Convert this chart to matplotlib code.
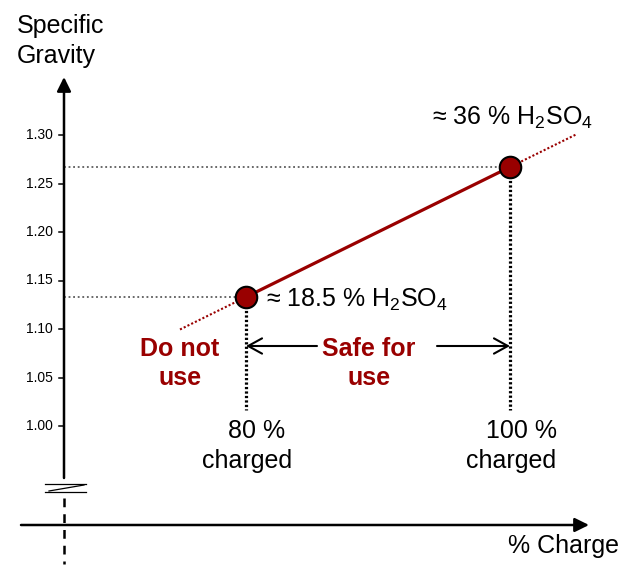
import matplotlib
matplotlib.use("Agg")
import matplotlib.pyplot as plt

# ---------------- data ----------------
charge = [80, 100]                      # % charge
gravity = [1.133, 1.267]                # specific gravity
acid_pct = ["18.5", "36"]               # % H2SO4
charge_labels = ["80 %", "100 %"]
yticks = [1.00, 1.05, 1.10, 1.15, 1.20, 1.25, 1.30]
ytick_labels = ["1.00", "1.05", "1.10", "1.15", "1.20", "1.25", "1.30"]
extension = 5                           # dotted extension of the line (% charge)

# ---------------- style ----------------
plt.rcParams["font.family"] = ["Liberation Sans", "DejaVu Sans"]
plt.rcParams["mathtext.fontset"] = "custom"
plt.rcParams["mathtext.rm"] = "Liberation Sans"
plt.rcParams["mathtext.it"] = "Liberation Sans:italic"
plt.rcParams["mathtext.bf"] = "Liberation Sans:bold"
plt.rcParams["mathtext.default"] = "regular"

RED = "#990000"
FS = 18

W, H = 635, 574
fig = plt.figure(figsize=(W / 100, H / 100), dpi=100)
ax = fig.add_axes([0, 0, 1, 1])
ax.axis("off")

# pixel <-> data scale of the drawing
PX_PER_PCT = 13.2
PX_PER_SG = 970.0
X_REF_PX, Y_REF_PX = 246, 135


def dx(px):
    return charge[0] + (px - X_REF_PX) / PX_PER_PCT


def dy(py):
    return yticks[-1] - (py - Y_REF_PX) / PX_PER_SG


ax.set_xlim(dx(0), dx(W))
ax.set_ylim(dy(H), dy(0))

AX_X = dx(64)
AX_Y = dy(525)

# y axis with arrow
ax.annotate("", xy=(AX_X, dy(77)), xytext=(AX_X, dy(478)),
            arrowprops=dict(arrowstyle="-|>,head_length=0.85,head_width=0.42",
                            lw=1.8, color="black", shrinkA=0, shrinkB=0,
                            mutation_scale=10))
# x axis with arrow
ax.annotate("", xy=(dx(589), AX_Y), xytext=(dx(21), AX_Y),
            arrowprops=dict(arrowstyle="-|>,head_length=0.85,head_width=0.42",
                            lw=1.8, color="black", shrinkA=0, shrinkB=0,
                            mutation_scale=10))

# axis break symbol
ax.plot([dx(45), dx(86)], [dy(484), dy(484)], color="black", lw=0.9)
ax.plot([dx(45), dx(86)], [dy(492), dy(492)], color="black", lw=0.9)
ax.plot([dx(49), dx(84)], [dy(491), dy(485)], color="black", lw=0.9)
ax.plot([AX_X, AX_X], [dy(498), dy(564)], color="black", lw=1.8,
        linestyle=(0, (3.5, 2.8)))

# y ticks
for v, lab in zip(yticks, ytick_labels):
    ax.plot([dx(59), AX_X], [v, v], color="black", lw=1.1)
    ax.text(dx(53), v, lab, ha="right", va="center", fontsize=10)

# guide lines
for c, g in zip(charge, gravity):
    ax.plot([AX_X, c], [g, g], color="#404040", lw=1.1,
            linestyle=(0, (1.2, 1.8)))
    ax.plot([c, c], [g, dy(410)], color="black", lw=2.3,
            linestyle=(0, (0.7, 0.7)))

# red line and its dotted extensions
slope = (gravity[1] - gravity[0]) / (charge[1] - charge[0])
ax.plot(charge, gravity, color=RED, lw=2.3, solid_capstyle="butt")
ax.plot([charge[0] - extension, charge[0]],
        [gravity[0] - slope * extension, gravity[0]],
        color=RED, lw=1.5, linestyle=(0, (1, 1)))
ax.plot([charge[1], charge[1] + extension],
        [gravity[1], gravity[1] + slope * extension],
        color=RED, lw=1.5, linestyle=(0, (1, 1)))
ax.scatter(charge, gravity, s=15.5 ** 2, color=RED, edgecolor="black",
           linewidth=1.5, zorder=5)

# acid concentration labels
acid_offsets = [(20, -10), (-78, 42)]
for c, g, a, off in zip(charge, gravity, acid_pct, acid_offsets):
    ax.annotate("≈ " + a + " % H$_2$SO$_4$", xy=(c, g), xytext=off,
                textcoords="offset pixels", ha="left", va="baseline",
                fontsize=FS)

# charge labels
for c, lab in zip(charge, charge_labels):
    ax.annotate(lab, xy=(c, dy(438)), xytext=(11, 0), textcoords="offset pixels",
                ha="center", va="baseline", fontsize=FS)
    ax.text(c + 1.5 / PX_PER_PCT, dy(468), "charged", ha="center",
            va="baseline", fontsize=FS)

# zone labels
ax.text(dx(180), dy(356), "Do not", ha="center", va="baseline", fontsize=FS,
        color=RED, fontweight="bold")
ax.text(dx(180), dy(385), "use", ha="center", va="baseline", fontsize=FS,
        color=RED, fontweight="bold")
ax.text(dx(369), dy(356), "Safe for", ha="center", va="baseline", fontsize=FS,
        color=RED, fontweight="bold")
ax.text(dx(369), dy(385), "use", ha="center", va="baseline", fontsize=FS,
        color=RED, fontweight="bold")

# safe-zone arrows
arrow_kw = dict(arrowstyle="->,head_length=1.0,head_width=0.55", lw=1.5,
                color="black", shrinkA=0, shrinkB=0, mutation_scale=10)
ax.annotate("", xy=(charge[0], dy(346)), xytext=(dx(317), dy(346)),
            arrowprops=arrow_kw)
ax.annotate("", xy=(charge[1], dy(346)), xytext=(dx(437), dy(346)),
            arrowprops=arrow_kw)

# axis titles
ax.text(dx(17), dy(33), "Specific", ha="left", va="baseline", fontsize=FS)
ax.text(dx(17), dy(63), "Gravity", ha="left", va="baseline", fontsize=FS)
ax.text(dx(508), dy(553), "% Charge", ha="left", va="baseline", fontsize=FS)

fig.savefig("out.png", dpi=100)
